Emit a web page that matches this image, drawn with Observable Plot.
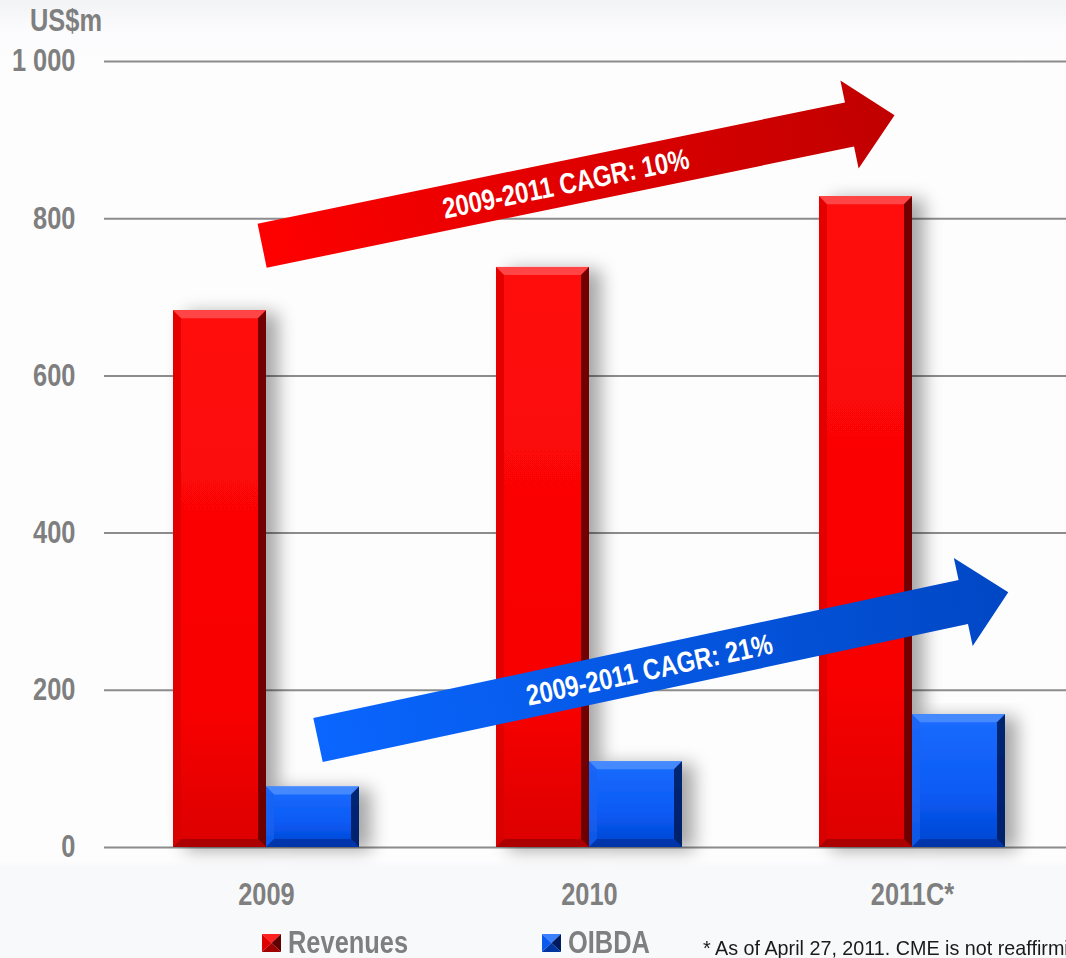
<!DOCTYPE html>
<html><head><meta charset="utf-8">
<script src="https://cdn.jsdelivr.net/npm/d3@7"></script>
<script src="https://cdn.jsdelivr.net/npm/@observablehq/plot@0.6"></script>
<style>
html,body{margin:0;padding:0;overflow:hidden;width:1066px;height:958px;}
body{position:relative;background:linear-gradient(to bottom,#f2f3f5 0px,#fbfbfd 28px,#fdfdfe 60px,#fdfdfe 860px,#f8f9fb 868px,#f8f9fb 100%);
font-family:"Liberation Sans",Arimo,Arial,sans-serif;}
#chart svg{display:block;}
#legend{position:absolute;left:0;top:922px;width:1066px;height:36px;overflow:hidden;}
.item{position:absolute;top:0;height:41px;display:flex;align-items:center;white-space:nowrap;}
.item svg{margin-right:7px;}
.item span{display:inline-block;font-weight:bold;font-size:31px;color:#7f7f7f;transform:scaleX(0.82);transform-origin:0 50%;}
.foot{position:absolute;top:14px;left:703px;font-size:21px;color:#1a1a1a;white-space:nowrap;transform:scaleX(0.94);transform-origin:0 50%;}
</style></head><body>
<div id="chart"></div>
<div id="legend"></div>
<script>
// ---- data ----
const categories = ["2009", "2010", "2011C*"];
const seriesNames = ["Revenues", "OIBDA"];
const revenues = [683, 738, 828];
const oibda = [77, 109, 169];
const yTicks = [0, 200, 400, 600, 800, 1000];
const yUnit = "US$m";
const cagrLabels = ["2009-2011 CAGR: 10%", "2009-2011 CAGR: 21%"];
// arrow annotation endpoints: [fractional category index, value]
const arrowFrom = [[-0.012, 765], [0.161, 136]];
const arrowTo = [[1.946, 931], [2.298, 324]];
const footnote = "* As of April 27, 2011. CME is not reaffirming its guidance";

const FONT = '"Liberation Sans",Arimo,Arial,sans-serif';
const NARROW = 0.82;
const table = categories.flatMap((c, i) => [
  {year: c, series: seriesNames[0], value: revenues[i]},
  {year: c, series: seriesNames[1], value: oibda[i]}
]);
const fmt = d3.formatLocale({decimal: ".", thousands: " ", grouping: [3], currency: ["", ""]}).format(",");

const chart = Plot.plot({
  width: 1066, height: 917,
  marginLeft: 104, marginRight: 0, marginTop: 61, marginBottom: 70,
  style: {background: "transparent", fontFamily: FONT, fontSize: "31px", fontWeight: "bold", color: "#7f7f7f", overflow: "visible"},
  x: {type: "band", domain: categories, range: [104, 1074.5], paddingInner: 0.4246, paddingOuter: 0.2135, align: 0.5,
      label: null, tickSize: 0, tickPadding: 35},
  y: {domain: [0, 1000], ticks: yTicks, tickSize: 0, tickPadding: 29, label: null, tickFormat: fmt},
  marks: [
    Plot.ruleY(yTicks, {stroke: "#8c8c8c", strokeWidth: 2}),
    Plot.barY(table.filter(d => d.series === seriesNames[0]), {x: "year", y: "value", fill: "url(#faceRed)", insetRight: 93}),
    Plot.barY(table.filter(d => d.series === seriesNames[1]), {x: "year", y: "value", fill: "url(#faceBlue)", insetLeft: 93})
  ]
});
document.getElementById("chart").appendChild(chart);

// ---- decorations using the chart's own scales ----
const svg = d3.select(chart);
// condense axis text horizontally (narrow face), about each text's anchor
svg.selectAll("text").each(function () {
  const t = d3.select(this);
  const x = parseFloat(t.attr("x")) || 0;
  const tr = t.attr("transform") || "";
  t.attr("transform", `${tr} translate(${x},0) scale(${NARROW},1) translate(${-x},0)`);
});
const defs = svg.insert("defs", ":first-child");
function lin(id, stops, attrs) {
  const g = defs.append("linearGradient").attr("id", id);
  Object.entries(attrs || {}).forEach(([k, v]) => g.attr(k, v));
  stops.forEach(([o, c]) => g.append("stop").attr("offset", o).attr("stop-color", c));
  return g;
}
lin("faceRed", [[0, "#ff0c0c"], [0.75, "#f80000"], [1, "#dc0000"]], {x1: 0, y1: 0, x2: 0, y2: 1});
lin("faceBlue", [[0, "#1c6cff"], [0.6, "#0a5af4"], [1, "#0046d0"]], {x1: 0, y1: 0, x2: 0, y2: 1});
const f = defs.append("filter").attr("id", "shadow").attr("x", "-20%").attr("y", "-10%").attr("width", "160%").attr("height", "130%");
f.append("feGaussianBlur").attr("in", "SourceAlpha").attr("stdDeviation", 9).attr("result", "b");
f.append("feOffset").attr("in", "b").attr("dx", 12).attr("dy", 3).attr("result", "o");
f.append("feComponentTransfer").attr("in", "o").attr("result", "s").append("feFuncA").attr("type", "linear").attr("slope", 0.35);
const m = f.append("feMerge"); m.append("feMergeNode").attr("in", "s"); m.append("feMergeNode").attr("in", "SourceGraphic");

const bevelCols = {
  faceRed: {top: "#ff4a4a", left: "#d40000", right: "#5a0000", bottom: "#a00000"},
  faceBlue: {top: "#4a8dff", left: "#1a62f0", right: "#001a58", bottom: "#0030a0"}
};
const B = 8;
svg.selectAll('g[aria-label="bar"]').each(function () {
  const g = d3.select(this).attr("filter", "url(#shadow)");
  g.selectAll("rect").each(function () {
    const r = d3.select(this);
    const x = +r.attr("x"), y = +r.attr("y"), w = +r.attr("width"), h = +r.attr("height");
    const key = (r.attr("fill") || g.attr("fill") || "").includes("Red") ? "faceRed" : "faceBlue";
    const c = bevelCols[key];
    const poly = (pts, fill, op) => g.append("polygon").attr("points", pts.map(p => p.join(",")).join(" ")).attr("fill", fill).attr("fill-opacity", op);
    poly([[x, y], [x + w, y], [x + w - B, y + B], [x + B, y + B]], c.top, 0.9);
    poly([[x, y], [x + B, y + B], [x + B, y + h - B], [x, y + h]], c.left, 0.6);
    poly([[x + w, y], [x + w, y + h], [x + w - B, y + h - B], [x + w - B, y + B]], c.right, 0.85);
    poly([[x, y + h], [x + B, y + h - B], [x + w - B, y + h - B], [x + w, y + h]], c.bottom, 0.8);
  });
});

const xs = chart.scale("x"), ys = chart.scale("y");
const x0 = xs.apply(categories[0]) + xs.bandwidth / 2;
const step = xs.apply(categories[1]) - xs.apply(categories[0]);
const px = ([i, v]) => [x0 + i * step, ys.apply(v)];

// y unit label
svg.append("text").attr("transform", `translate(66,31) scale(${NARROW},1)`).attr("text-anchor", "middle").attr("fill", "#7f7f7f")
  .attr("font-size", 31).attr("font-weight", "bold").text(yUnit);

const arrowGrad = [["#ff0000", "#c00000"], ["#0a66ff", "#0047c4"]];
arrowFrom.forEach((from, k) => {
  const T = px(from), P = px(arrowTo[k]);
  const dx = P[0] - T[0], dy = P[1] - T[1], len = Math.hypot(dx, dy);
  const u = [dx / len, dy / len], n = [-u[1], u[0]];
  const w = 22.5, H = 45, L = 46;
  const Bp = [P[0] - u[0] * L, P[1] - u[1] * L];
  const add = (p, v, s) => [p[0] + v[0] * s, p[1] + v[1] * s];
  const pts = [add(T, n, -w), add(Bp, n, -w), add(Bp, n, -H), P, add(Bp, n, H), add(Bp, n, w), add(T, n, w)];
  const id = "arrowGrad" + k;
  lin(id, [[0, arrowGrad[k][0]], [1, arrowGrad[k][1]]], {gradientUnits: "userSpaceOnUse", x1: T[0], y1: T[1], x2: P[0], y2: P[1]});
  svg.append("polygon").attr("points", pts.map(p => p.join(",")).join(" ")).attr("fill", `url(#${id})`);
  const C = add(T, u, len * 0.48);
  const ang = Math.atan2(dy, dx) * 180 / Math.PI;
  svg.append("text").attr("transform", `translate(${C[0]},${C[1]}) rotate(${ang}) scale(${NARROW},1)`)
    .attr("text-anchor", "middle").attr("dy", "0.36em").attr("fill", "white")
    .attr("font-size", 29).attr("font-weight", "bold").text(cagrLabels[k]);
});

// ---- legend ----
const legend = d3.select("#legend");
const iconCols = [["#ff2020", "#e00000", "#600000", "#a00000"], ["#3a80ff", "#0a5af0", "#001a60", "#0035a0"]];
const iconLeft = [262, 542];
seriesNames.forEach((s, k) => {
  const item = legend.append("div").attr("class", "item").style("left", iconLeft[k] + "px");
  const ic = item.append("svg").attr("width", 19).attr("height", 18);
  const [t, l, r, b] = iconCols[k];
  ic.append("polygon").attr("points", "0,0 19,0 9.5,9").attr("fill", t);
  ic.append("polygon").attr("points", "0,0 9.5,9 0,18").attr("fill", l);
  ic.append("polygon").attr("points", "19,0 19,18 9.5,9").attr("fill", r);
  ic.append("polygon").attr("points", "0,18 9.5,9 19,18").attr("fill", b);
  item.append("span").text(s);
});
legend.append("div").attr("class", "foot").text(footnote);
</script>
</body></html>
